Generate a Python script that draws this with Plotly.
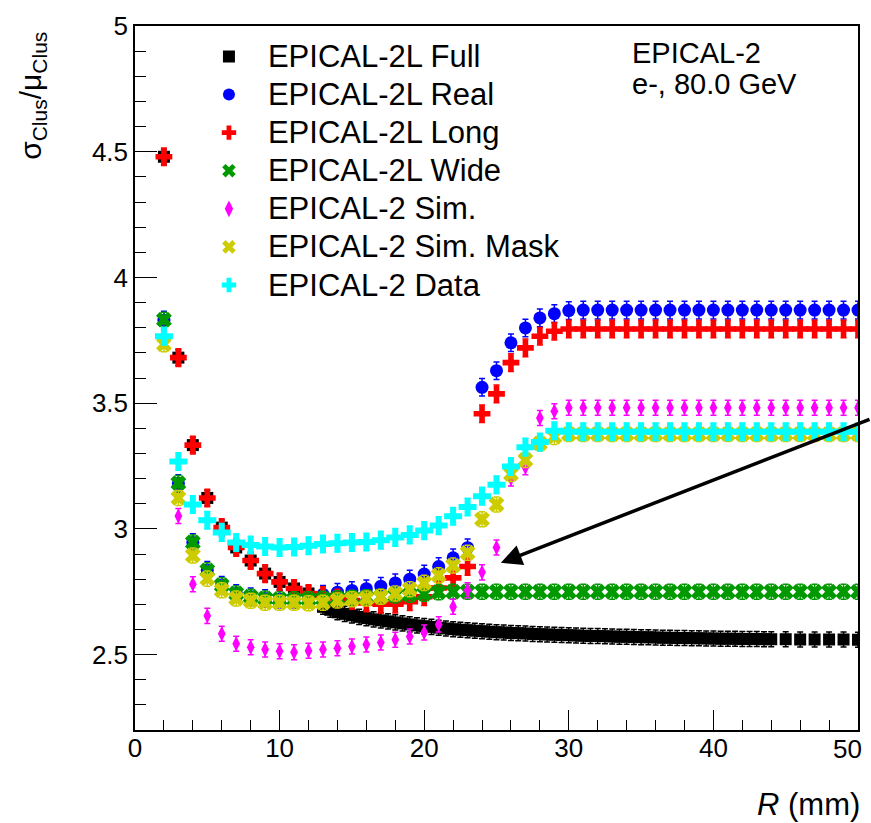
import plotly.graph_objects as go

# ---------------- data ----------------
R_mm = [2, 3, 4, 5, 6, 7, 8, 9, 10, 11, 12, 13, 14, 15, 16, 17, 18, 19, 20, 21, 22, 23, 24, 25,
        26, 27, 28, 29, 30, 31, 32, 33, 34, 35, 36, 37, 38, 39, 40, 41, 42, 43, 44, 45, 46, 47,
        48, 49, 50]

full_R = [2, 3, 4, 5, 6, 7, 8, 9, 10, 11, 12,
          13.0, 13.5, 14.0, 14.5, 15.0, 15.5, 16.0, 16.5, 17.0, 17.5, 18.0, 18.5, 19.0, 19.5,
          20.0, 20.5, 21.0, 21.5, 22.0, 22.5, 23.0, 23.5, 24.0, 24.5, 25.0, 25.5, 26.0, 26.5,
          27.0, 27.5, 28.0, 28.5, 29.0, 29.5, 30.0, 30.5, 31.0, 31.5, 32.0, 32.5, 33.0, 33.5,
          34.0, 34.5, 35.0, 35.5, 36.0, 36.5, 37.0, 37.5, 38.0, 38.5, 39.0, 39.5, 40.0, 40.5,
          41.0, 41.5, 42.0, 42.5, 43.0, 43.5, 44.0, 45, 46, 47, 48, 49, 50]
full_val = [4.48, 3.681, 3.333, 3.123, 3.005, 2.926, 2.874, 2.822, 2.789, 2.763, 2.743,
            2.690, 2.678, 2.668, 2.662, 2.656, 2.650, 2.645, 2.640, 2.636, 2.632, 2.628, 2.624,
            2.620, 2.616, 2.613, 2.610, 2.607, 2.604, 2.601, 2.599, 2.597, 2.595, 2.593, 2.591,
            2.589, 2.588, 2.586, 2.585, 2.584, 2.582, 2.581, 2.580, 2.579, 2.578, 2.577, 2.576,
            2.575, 2.574, 2.574, 2.573, 2.572, 2.571, 2.571, 2.570, 2.569, 2.569, 2.568, 2.567,
            2.567, 2.566, 2.566, 2.565, 2.565, 2.564, 2.564, 2.563, 2.563, 2.563, 2.562, 2.562,
            2.562, 2.561, 2.561, 2.561, 2.560, 2.560, 2.560, 2.560, 2.559]

real_val = [3.83, 3.18, 2.946, 2.835, 2.776, 2.743, 2.730, 2.723, 2.720, 2.720, 2.722,
            2.740, 2.748, 2.755, 2.762, 2.772, 2.785, 2.800, 2.820, 2.850, 2.885, 2.925,
            3.563, 3.629, 3.740, 3.799, 3.839, 3.856, 3.868, 3.870, 3.870, 3.870, 3.870,
            3.870, 3.870, 3.870, 3.870, 3.870, 3.870, 3.870, 3.870, 3.870, 3.870, 3.870,
            3.870, 3.870, 3.870, 3.870, 3.870]

long_val = [4.48, 3.681, 3.333, 3.123, 3.005, 2.926, 2.874, 2.822, 2.789, 2.763, 2.743,
            2.735, 2.725, 2.715, 2.705, 2.700, 2.700, 2.710, 2.730, 2.765, 2.805, 2.850,
            3.458, 3.537, 3.661, 3.720, 3.766, 3.786, 3.795, 3.795, 3.795, 3.795, 3.795,
            3.795, 3.795, 3.795, 3.795, 3.795, 3.795, 3.795, 3.795, 3.795, 3.795, 3.795,
            3.795, 3.795, 3.795, 3.795, 3.795]

wide_val = [3.832, 3.182, 2.946, 2.835, 2.776, 2.743, 2.730, 2.723, 2.720, 2.720, 2.720,
            2.722, 2.724, 2.726, 2.728, 2.730, 2.735, 2.738, 2.742, 2.748, 2.750, 2.750,
            2.750, 2.750, 2.750, 2.750, 2.750, 2.750, 2.750, 2.750, 2.750, 2.750, 2.750,
            2.750, 2.750, 2.750, 2.750, 2.750, 2.750, 2.750, 2.750, 2.750, 2.750, 2.750,
            2.750, 2.750, 2.750, 2.750, 2.750]

sim_val = [3.76, 3.051, 2.780, 2.654, 2.583, 2.543, 2.529, 2.520, 2.513, 2.509, 2.515,
           2.520, 2.525, 2.532, 2.540, 2.548, 2.559, 2.572, 2.588, 2.620, 2.690, 2.756,
           2.827, 2.926, 3.200, 3.245, 3.441, 3.468, 3.482, 3.482, 3.482, 3.482, 3.482,
           3.482, 3.482, 3.482, 3.482, 3.482, 3.482, 3.482, 3.482, 3.482, 3.482, 3.482,
           3.482, 3.482, 3.482, 3.482, 3.482]

mask_val = [3.734, 3.123, 2.894, 2.802, 2.756, 2.723, 2.714, 2.706, 2.706, 2.706, 2.704,
            2.706, 2.715, 2.720, 2.723, 2.730, 2.743, 2.760, 2.785, 2.815, 2.854, 2.905,
            3.038, 3.097, 3.218, 3.274, 3.340, 3.366, 3.377, 3.377, 3.377, 3.377, 3.377,
            3.377, 3.377, 3.377, 3.377, 3.377, 3.377, 3.377, 3.377, 3.377, 3.377, 3.377,
            3.377, 3.377, 3.377, 3.377, 3.377]

data_val = [3.766, 3.268, 3.097, 3.034, 2.986, 2.946, 2.936, 2.930, 2.926, 2.928, 2.933,
            2.940, 2.943, 2.946, 2.948, 2.955, 2.966, 2.976, 2.993, 3.013, 3.050, 3.087,
            3.130, 3.175, 3.248, 3.325, 3.345, 3.390, 3.386, 3.386, 3.386, 3.386, 3.386,
            3.386, 3.386, 3.386, 3.386, 3.386, 3.386, 3.386, 3.386, 3.386, 3.386, 3.386,
            3.386, 3.386, 3.386, 3.386, 3.386]

series_names = ["EPICAL-2L Full", "EPICAL-2L Real", "EPICAL-2L Long", "EPICAL-2L Wide",
                "EPICAL-2 Sim.", "EPICAL-2 Sim. Mask", "EPICAL-2 Data"]
stat_err = [0.03, 0.035, 0.035, 0.03, 0.03, 0.03, 0.035]

x_tick_vals = [0, 10, 20, 30, 40, 50]
x_tick_text = ["0", "10", "20", "30", "40", ""]
x_last_label = "50"
y_tick_vals = [2.5, 3.0, 3.5, 4.0, 4.5, 5.0]
y_tick_text = ["2.5", "3", "3.5", "4", "4.5", "5"]

# ---------------- figure ----------------
FONT = "Liberation Sans, Arial, sans-serif"

styles = [
    dict(color="black", symbol="square", size=12, line=dict(width=0)),
    dict(color="#0000ff", symbol="circle", size=13, line=dict(width=0)),
    dict(color="#ff0000", symbol="cross", size=14, line=dict(width=0)),
    dict(color="#009900", symbol="x", size=14, line=dict(width=0)),
    dict(color="#ff00ff", symbol="diamond-tall", size=11, line=dict(width=0)),
    dict(color="#cccc00", symbol="x", size=14, line=dict(width=0)),
    dict(color="#00ffff", symbol="cross", size=15, line=dict(width=0)),
]

xs = [full_R, R_mm, R_mm, R_mm, R_mm, R_mm, R_mm]
ys = [full_val, real_val, long_val, wide_val, sim_val, mask_val, data_val]

fig = go.Figure()
for i, (name, st) in enumerate(zip(series_names, styles)):
    fig.add_trace(go.Scatter(
        x=xs[i], y=ys[i], mode="markers",
        name='<span style="font-size:31px">' + name + '</span>', legendgroup=name,
        marker=dict(symbol=st["symbol"], size=st["size"], color=st["color"], line=st["line"]),
        error_y=dict(type="constant", value=stat_err[i], color=st["color"],
                     thickness=1.5, width=3),
    ))

fig.update_layout(
    width=871, height=823,
    margin=dict(l=135, r=11, t=20, b=93),
    paper_bgcolor="white", plot_bgcolor="white",
    font=dict(family=FONT, size=26, color="black"),
    showlegend=True,
    legend=dict(x=0.076, y=0.991, xanchor="left", yanchor="top",
                bgcolor="rgba(0,0,0,0)", borderwidth=0,
                font=dict(family=FONT, size=27, color="black"),
                tracegroupgap=0, itemsizing="constant", itemwidth=68),
)

fig.update_xaxes(
    range=[0, 50], showgrid=False, zeroline=False,
    showline=True, linecolor="black", linewidth=1.5, mirror=True,
    ticks="inside", ticklen=20, tickwidth=1, tickcolor="black",
    tickmode="array", tickvals=x_tick_vals, ticktext=x_tick_text,
    ticklabelstandoff=-6,
    minor=dict(ticks="inside", ticklen=10, dtick=2, tick0=0, tickcolor="black", tickwidth=1),
    tickfont=dict(family=FONT, size=26),
)
fig.update_yaxes(
    range=[2.2, 5.0], showgrid=False, zeroline=False,
    showline=True, linecolor="black", linewidth=1.5, mirror=True,
    ticks="inside", ticklen=22, tickwidth=1, tickcolor="black",
    tickmode="array", tickvals=y_tick_vals, ticktext=y_tick_text,
    minor=dict(ticks="inside", ticklen=11, dtick=0.1, tickcolor="black", tickwidth=1),
    tickfont=dict(family=FONT, size=26),
)

# last x tick label, kept inside the page like ROOT does
fig.add_annotation(
    text=x_last_label, xref="x", yref="paper", x=x_tick_vals[-1], y=0,
    xanchor="right", yanchor="top", xshift=6, yshift=-2, showarrow=False,
    font=dict(family=FONT, size=26),
)

# axis titles (ROOT style: at the ends of the axes)
fig.add_annotation(
    text="σ<sub>Clus</sub>/μ<sub>Clus</sub>", textangle=-90,
    xref="paper", yref="paper", x=-0.142, y=0.995, xanchor="center", yanchor="top",
    showarrow=False, font=dict(family=FONT, size=30),
)
fig.add_annotation(
    text="<i>R</i> (mm)", xref="paper", yref="paper", x=1.005, y=-0.078,
    xanchor="right", yanchor="top", showarrow=False, font=dict(family=FONT, size=31),
)
# info text
fig.add_annotation(
    text="EPICAL-2", xref="paper", yref="paper", x=0.685, y=0.987,
    xanchor="left", yanchor="top", align="left", showarrow=False,
    font=dict(family=FONT, size=29),
)
fig.add_annotation(
    text="e-, 80.0 GeV", xref="paper", yref="paper", x=0.685, y=0.943,
    xanchor="left", yanchor="top", align="left", showarrow=False,
    font=dict(family=FONT, size=29),
)
# arrow
fig.add_annotation(
    x=25.3, y=2.865, xref="x", yref="y", text="", showarrow=True,
    ax=371, ay=-144, axref="pixel", ayref="pixel",
    arrowhead=2, arrowsize=1.2, arrowwidth=3.5, arrowcolor="black",
)

fig.write_html("out.html")
